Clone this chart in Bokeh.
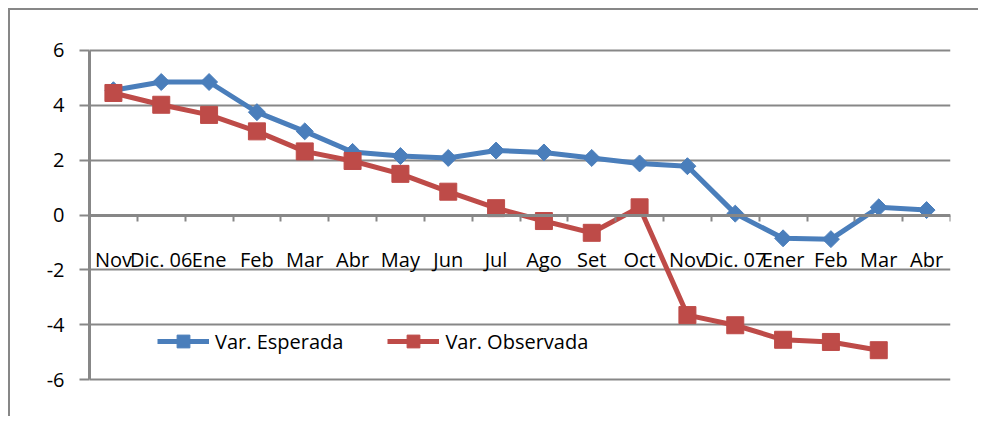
import numpy as np
from bokeh.plotting import figure
from bokeh.models import Range1d, FixedTicker, Legend, LegendItem
from bokeh.embed import file_html
from bokeh.resources import INLINE

categories = ["Nov", "Dic. 06", "Ene", "Feb", "Mar", "Abr", "May", "Jun", "Jul",
              "Ago", "Set", "Oct", "Nov", "Dic. 07", "Ener", "Feb", "Mar", "Abr"]
esperada = [4.55, 4.85, 4.85, 3.75, 3.05, 2.3, 2.15, 2.08, 2.35, 2.28, 2.08,
            1.88, 1.78, 0.05, -0.85, -0.88, 0.28, 0.18]
observada = [4.45, 4.02, 3.65, 3.05, 2.32, 1.97, 1.5, 0.85, 0.25, -0.22, -0.65,
             0.28, -3.65, -4.02, -4.55, -4.63, -4.93]
y_ticks = [-6, -4, -2, 0, 2, 4, 6]
y_labels = ["-6", "-4", "-2", "0", "2", "4", "6"]

BLUE = "#4A7EBB"
RED = "#BE4B48"
GRAY = "#878787"
FONT = "Open Sans"

n = len(categories)
x_all = np.arange(n) + 0.5
x_obs = x_all[:len(observada)]

p = figure(width=970, height=408, x_range=Range1d(0, n), y_range=Range1d(-6.4, 6.4),
           output_backend="svg", toolbar_location=None,
           min_border_left=79, min_border_right=30, min_border_top=29, min_border_bottom=28)
p.styles = {"border-left": f"2px solid {GRAY}", "border-top": f"2px solid {GRAY}",
            "margin-left": "8px", "margin-top": "8px"}
p.outline_line_color = None

# y axis
ya = p.yaxis[0]
ya.ticker = FixedTicker(ticks=y_ticks)
ya.major_label_overrides = {t: s for t, s in zip(y_ticks, y_labels)}
ya.bounds = (-6, 6)
ya.axis_line_color = GRAY
ya.axis_line_width = 3
ya.major_tick_out = 10
ya.major_tick_in = 0
ya.major_tick_line_color = GRAY
ya.major_tick_line_width = 2
ya.minor_tick_line_color = None
ya.major_label_text_font = FONT
ya.major_label_text_font_size = "20px"
ya.major_label_text_color = "black"
ya.major_label_standoff = 15

p.ygrid.grid_line_color = GRAY
p.ygrid.grid_line_width = 2
p.xgrid.grid_line_color = None

# x axis at y = 0
xa = p.xaxis[0]
xa.fixed_location = 0
xa.ticker = FixedTicker(ticks=list(x_all), minor_ticks=list(range(n + 1)))
xa.major_label_overrides = {float(x): lab for x, lab in zip(x_all, categories)}
xa.major_tick_line_color = None
xa.major_tick_out = 0
xa.major_tick_in = 0
xa.minor_tick_out = 6
xa.minor_tick_in = 0
xa.minor_tick_line_color = GRAY
xa.minor_tick_line_width = 2
xa.axis_line_color = GRAY
xa.axis_line_width = 3
xa.major_label_standoff = 25
xa.major_label_text_font = FONT
xa.major_label_text_font_size = "20px"
xa.major_label_text_color = "black"

l1 = p.line(x_all, esperada, line_color=BLUE, line_width=5)
s1 = p.scatter(x_all, esperada, marker="square", size=12, angle=np.pi / 4,
               fill_color=BLUE, line_color=BLUE)
l2 = p.line(x_obs, observada, line_color=RED, line_width=5)
s2 = p.scatter(x_obs, observada, marker="square", size=17,
               fill_color=RED, line_color=RED)

legend = Legend(items=[LegendItem(label="Var. Esperada", renderers=[l1, s1]),
                       LegendItem(label="Var. Observada", renderers=[l2, s2])],
                orientation="horizontal", location=(68, 33),
                glyph_width=52, glyph_height=32, label_standoff=6, spacing=44,
                padding=0, margin=0, background_fill_alpha=0, border_line_color=None,
                label_text_font=FONT, label_text_font_size="20px",
                label_text_color="black")
p.add_layout(legend)

open("out.html", "w").write(file_html(p, INLINE))
